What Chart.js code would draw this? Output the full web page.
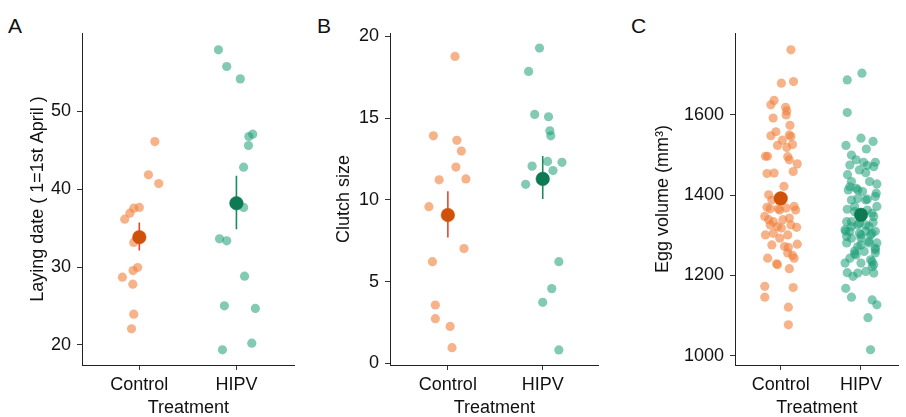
<!DOCTYPE html>
<html><head><meta charset="utf-8">
<script src="https://cdn.jsdelivr.net/npm/chart.js@4"></script>
<style>
html,body{margin:0;padding:0;background:#fff;width:906px;height:417px;overflow:hidden;position:relative;}
canvas{position:absolute;top:0;}
.lab{position:absolute;top:15px;font-family:'Liberation Sans',Arial,sans-serif;font-size:21px;line-height:21px;color:#111;}
</style></head><body>
<div class="lab" style="left:8px">A</div>
<div class="lab" style="left:317px">B</div>
<div class="lab" style="left:631px">C</div>
<canvas id="cA" width="302" height="417" style="left:0px"></canvas>
<canvas id="cB" width="304" height="417" style="left:302px"></canvas>
<canvas id="cC" width="300" height="417" style="left:606px"></canvas>
<script>
const categories = ['Control', 'HIPV'];

// Panel A: laying date
const layTicks = [20, 30, 40, 50];
const layControl = [46.14,41.86,40.74,37.66,37.57,36.93,36.16,33.16,29.94,29.55,28.70,27.80,23.94,22.05];
const layControlJitter = [0.16,0.094,0.20,0.0,-0.057,-0.097,-0.15,-0.057,-0.017,-0.064,-0.174,-0.067,-0.057,-0.08];
const layHipv = [57.93,55.79,54.2,47.09,46.79,45.63,42.84,37.66,33.63,33.37,28.83,25.01,24.67,20.21,19.35];
const layHipvJitter = [-0.185,-0.10,0.04,0.168,0.128,0.124,0.074,0.074,-0.174,-0.10,0.084,-0.124,0.195,0.158,-0.144];
const layMean = [33.84, 38.21];
const layLower = [32.13, 34.87];
const layUpper = [35.73, 41.73];

// Panel B: clutch size
const clutchTicks = [0, 5, 10, 15, 20];
const clutchControl = [18.77,13.91,13.64,12.98,12.0,11.22,11.28,9.58,7.02,6.22,3.57,2.73,2.26,0.96];
const clutchControlJitter = [0.075,-0.153,0.095,0.142,0.085,-0.092,0.19,-0.2,0.17,-0.163,-0.132,-0.132,0.024,0.044];
const clutchHipv = [19.28,17.85,15.22,15.08,14.22,13.91,12.06,12.35,12.29,11.79,10.95,6.22,4.57,3.73,0.82];
const clutchHipvJitter = [-0.034,-0.149,-0.085,0.061,0.075,0.085,-0.112,0.051,0.203,0.108,-0.18,0.17,0.095,0.0,0.17];
const clutchMean = [9.07, 11.28];
const clutchLower = [7.69, 10.05];
const clutchUpper = [10.52, 12.68];

// Panel C: egg volume
const eggTicks = [1000, 1200, 1400, 1600];
const eggControl = [1762,1679,1683,1636,1625,1619,1610,1600,1592,1574,1558,1550,1546,1548,1537,1524,1519,1526,1496,1497,1497,1478,1488,1454,1455,1459,1422,1401,1388,1393,1370,1366,1366,1363,1368,1372,1363,1347,1339,1334,1339,1343,1326,1322,1318,1326,1320,1301,1305,1293,1301,1278,1276,1272,1270,1256,1250,1243,1243,1229,1227,1217,1173,1170,1146,1121,1077];
const eggControlJitter = [0.127,0.008,0.159,-0.083,-0.123,0.060,0.075,0.067,-0.095,0.115,-0.060,0.107,0.127,-0.123,0.020,-0.040,0.075,0.147,0.087,-0.190,-0.165,0.206,0.107,-0.171,-0.083,0.155,0.040,-0.151,-0.111,-0.020,-0.171,-0.131,-0.032,-0.012,0.067,0.167,0.186,-0.199,-0.151,-0.092,0.027,0.107,-0.131,-0.040,0.008,0.127,0.198,-0.190,-0.092,-0.012,0.087,0.206,-0.111,0.048,0.095,0.087,0.147,0.167,-0.163,-0.052,-0.040,0.107,-0.199,0.155,-0.199,0.095,0.095];
const eggHipv = [1704,1687,1606,1542,1524,1534,1500,1515,1482,1488,1482,1474,1471,1475,1463,1456,1451,1428,1434,1434,1421,1413,1413,1405,1409,1417,1388,1390,1392,1388,1397,1372,1365,1372,1359,1363,1355,1347,1334,1334,1322,1330,1326,1332,1322,1326,1314,1310,1310,1305,1310,1301,1310,1297,1293,1293,1301,1305,1285,1281,1272,1281,1276,1268,1281,1254,1261,1251,1260,1256,1264,1243,1231,1231,1235,1239,1227,1222,1207,1206,1210,1206,1198,1168,1146,1139,1127,1095,1015];
const eggHipvJitter = [0.012,-0.171,-0.171,0,-0.187,0.151,-0.119,0.067,0.179,-0.06,0.032,0.079,0.159,-0.139,-0.02,0.06,-0.167,0.198,0.107,-0.119,-0.139,-0.159,-0.04,0.19,0.02,-0.06,-0.119,0.079,-0.04,0.06,0.179,0.198,-0.171,-0.079,-0.079,0.079,0.139,0.159,-0.179,-0.119,-0.119,-0.02,0.06,0.151,0.099,-0.04,-0.199,-0.19,-0.139,-0.02,0.06,0.119,0.179,-0.179,-0.119,0,0,0.139,0.099,0.198,-0.04,0.099,0,0.179,-0.179,-0.079,-0.079,-0.06,0.04,0.179,0.179,-0.139,-0.198,0,0.139,0.119,0.159,0.139,-0.171,-0.04,0.06,0.159,-0.099,-0.19,-0.119,0.139,0.198,0.087,0.119];
const eggMean = [1392, 1351];

const FONT = {family: "'Liberation Sans', Arial, sans-serif", size: 18};
const TXT = '#111';
const lightCol = ['rgba(240,128,60,0.6)', 'rgba(27,158,119,0.55)'];
const meanCol = ['#D0520A', '#0E7A53'];
const barCol = ['#E0492F', '#1A8A5F'];

function pts(vals, jit, pos) {
  return vals.map((v, i) => ({x: pos + jit[i], y: v}));
}

function makePanel(id, p) {
  const datasets = [];
  datasets.push({
    data: p.mean.map((m, i) => ({x: i + 1, y: m})),
    backgroundColor: meanCol, borderColor: meanCol, borderWidth: 0.5,
    pointRadius: 6.8, order: 0
  });
  if (p.lower) {
    p.lower.forEach((lo, i) => {
      datasets.push({
        data: [{x: i + 1, y: lo}, {x: i + 1, y: p.upper[i]}],
        showLine: true, borderColor: barCol[i], borderWidth: 1.6,
        pointRadius: 0, order: 1
      });
    });
  }
  p.raw.forEach((vals, i) => {
    datasets.push({
      data: pts(vals, p.jit[i], i + 1),
      backgroundColor: lightCol[i], borderWidth: 0,
      pointRadius: 4.6, order: 2
    });
  });
  new Chart(document.getElementById(id), {
    type: 'scatter',
    data: {datasets},
    options: {
      responsive: false, animation: false, devicePixelRatio: 1,
      events: [],
      layout: {padding: {top: 33, right: p.rightPad, left: 0, bottom: 0}},
      plugins: {legend: {display: false}, tooltip: {enabled: false}},
      scales: {
        x: {
          type: 'linear', min: p.xmin, max: p.xmax,
          afterBuildTicks: s => { s.ticks = categories.map((c, i) => ({value: i + 1})); },
          afterFit: s => { s.height = 52; },
          ticks: {font: FONT, color: TXT, padding: 4, maxRotation: 0,
                  callback: (v, i) => categories[i]},
          grid: {display: true, drawOnChartArea: false, drawTicks: true, tickLength: 5, tickColor: '#333'},
          border: {display: true, color: '#222', width: 1},
          title: {display: true, text: 'Treatment', font: FONT, color: TXT, padding: {top: 0, bottom: -2}}
        },
        y: {
          type: 'linear', min: p.ymin, max: p.ymax,
          afterBuildTicks: s => { s.ticks = p.ticks.map(v => ({value: v})); },
          afterFit: s => { s.width = p.yWidth; },
          ticks: {font: FONT, color: TXT, padding: 6, callback: v => String(v)},
          grid: {display: true, drawOnChartArea: false, drawTicks: true, tickLength: 5, tickColor: '#333'},
          border: {display: true, color: '#222', width: 1},
          title: {display: true, text: p.title, font: FONT, color: TXT, padding: {top: p.titlePad, bottom: 0}}
        }
      }
    }
  });
}

makePanel('cA', {
  raw: [layControl, layHipv], jit: [layControlJitter, layHipvJitter],
  mean: layMean, lower: layLower, upper: layUpper, ticks: layTicks,
  ymin: 17.4, ymax: 60.1, xmin: 0.41, xmax: 2.6, yWidth: 82, rightPad: 2,
  title: 'Laying date ( 1=1st April )', titlePad: 27
});
makePanel('cB', {
  raw: [clutchControl, clutchHipv], jit: [clutchControlJitter, clutchHipvJitter],
  mean: clutchMean, lower: clutchLower, upper: clutchUpper, ticks: clutchTicks,
  ymin: -0.1, ymax: 20.2, xmin: 0.39, xmax: 2.59, yWidth: 88, rightPad: 0,
  title: 'Clutch size', titlePad: 31
});
makePanel('cC', {
  raw: [eggControl, eggHipv], jit: [eggControlJitter, eggHipvJitter],
  mean: eggMean, ticks: eggTicks,
  ymin: 977, ymax: 1804, xmin: 0.43, xmax: 2.47, yWidth: 129, rightPad: 0,
  title: 'Egg volume (mm³)', titlePad: 46
});
</script>
</body></html>
